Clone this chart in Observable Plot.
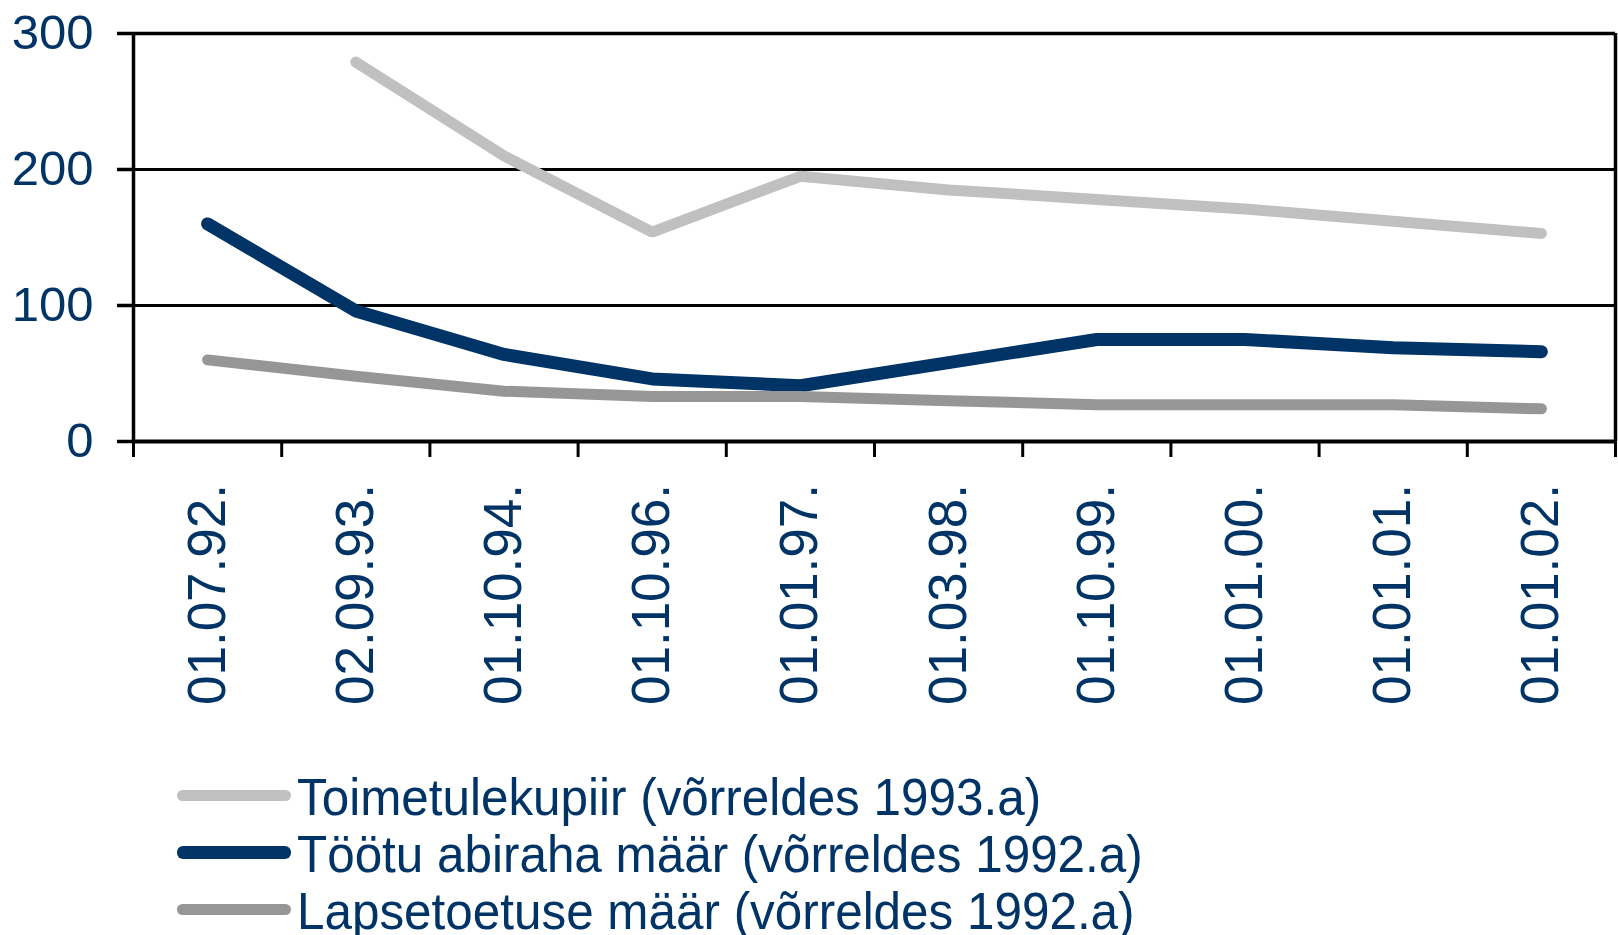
<!DOCTYPE html>
<html>
<head>
<meta charset="utf-8">
<script src="https://cdn.jsdelivr.net/npm/d3@7"></script>
<script src="https://cdn.jsdelivr.net/npm/@observablehq/plot@0.6"></script>
<style>
  html, body { margin: 0; padding: 0; background: #fff; }
  body { width: 1618px; height: 935px; position: relative; overflow: hidden; font-family: "Liberation Sans", Arial, sans-serif; }
  #chart { position: absolute; left: 0; top: 0; }
  #legend { position: absolute; left: 177px; top: 769px; color: #003366; font-size: 52px; line-height: 57px; }
  .row { display: flex; align-items: center; white-space: nowrap; }
  .sw { width: 114px; border-radius: 6px; margin-right: 6px; position: relative; top: -2px; flex: none; }
  .txt { display: inline-block; transform: scaleX(0.95); transform-origin: 0 50%; }
</style>
</head>
<body>
<div id="chart"></div>
<div id="legend"></div>
<script>
const dates = ["01.07.92.", "02.09.93.", "01.10.94.", "01.10.96.", "01.01.97.", "01.03.98.", "01.10.99.", "01.01.00.", "01.01.01.", "01.01.02."];
const seriesNames = ["Toimetulekupiir (võrreldes 1993.a)", "Töötu abiraha määr (võrreldes 1992.a)", "Lapsetoetuse määr (võrreldes 1992.a)"];
const seriesColors = ["#C0C0C0", "#003366", "#969696"];
const seriesWidths = [11, 13, 11];
const toimetulekupiir = [null, 279, 210, 154, 195, 185, 178, 171, 162, 153];
const tootuAbiraha = [160, 96, 64, 46, 41, 58, 75, 75, 69, 66];
const lapsetoetus = [60, 48, 37, 33, 33, 30, 27, 27, 27, 24];
const yTicks = [0, 100, 200, 300];

const seriesValues = [toimetulekupiir, tootuAbiraha, lapsetoetus];
const rows = [];
seriesValues.forEach((vals, s) => {
  vals.forEach((v, i) => {
    if (v != null) rows.push({series: seriesNames[s], idx: i + 0.5, date: dates[i], value: v});
  });
});
const bounds = d3.range(dates.length + 1);
const labelRows = dates.map((d, i) => ({date: d, idx: i + 0.5}));

const navy = "#003366";
const chart = Plot.plot({
  width: 1618,
  height: 740,
  marginLeft: 133,
  marginRight: 3,
  marginTop: 33,
  marginBottom: 299,
  style: {fontFamily: "'Liberation Sans', Arial, sans-serif", fontSize: "49px", background: "white"},
  x: {type: "linear", domain: [0, dates.length], axis: null},
  y: {domain: [0, 300], axis: null},
  marks: [
    Plot.ruleY([100, 200], {stroke: "black", strokeWidth: 3}),
    Plot.ruleY([300], {stroke: "black", strokeWidth: 3.5}),
    Plot.ruleX([0, dates.length], {stroke: "black", strokeWidth: 3.5}),
    Plot.axisY({ticks: yTicks, label: null, tickSize: 16, tickPadding: 24, stroke: "black", strokeWidth: 3.5, fill: navy, fontSize: 49}),
    Plot.axisX({ticks: bounds, label: null, tickSize: 16, tickFormat: () => "", stroke: "black", strokeWidth: 3}),
    Plot.ruleY([0], {stroke: "black", strokeWidth: 4}),
    ...seriesNames.map((name, s) =>
      Plot.line(rows.filter(r => r.series === name), {x: "idx", y: "value", stroke: seriesColors[s], strokeWidth: seriesWidths[s], strokeLinecap: "round", strokeLinejoin: "miter"})
    ),
    Plot.text(labelRows, {x: "idx", y: () => 0, text: "date", rotate: -90, textAnchor: "end", lineAnchor: "middle", dy: 42.5, fill: navy, fontSize: 53})
  ]
});
document.getElementById("chart").appendChild(chart);

const legend = document.getElementById("legend");
seriesNames.forEach((name, s) => {
  const row = document.createElement("div");
  row.className = "row";
  const sw = document.createElement("div");
  sw.className = "sw";
  sw.style.background = seriesColors[s];
  sw.style.height = seriesWidths[s] + "px";
  const t = document.createElement("span");
  t.className = "txt";
  t.textContent = name;
  row.appendChild(sw);
  row.appendChild(t);
  legend.appendChild(row);
});
</script>
</body>
</html>
